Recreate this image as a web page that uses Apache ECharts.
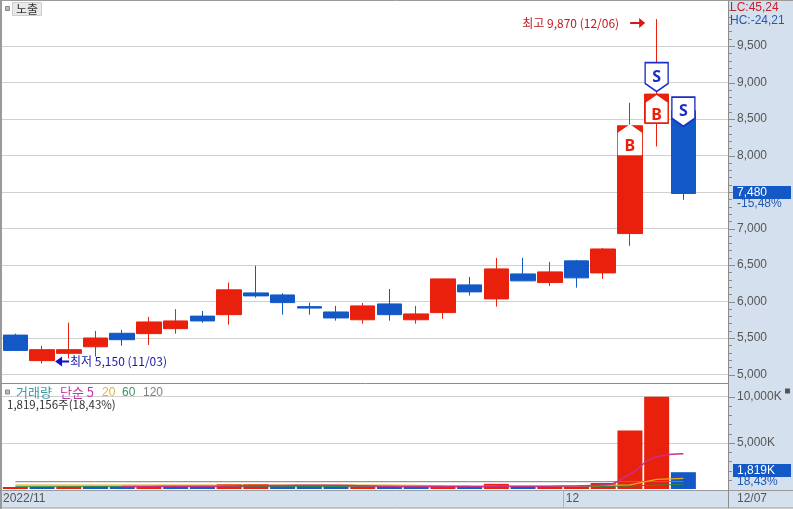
<!DOCTYPE html>
<html><head><meta charset="utf-8">
<style>html,body{margin:0;padding:0;background:#fff}
#c{width:793px;height:509px;background:linear-gradient(#d5e0ee,#d5e0ee) 729px 0/64px 490px no-repeat,linear-gradient(#d5e0ee,#d5e0ee) 0 491px/793px 17px no-repeat,#fff}</style>
<script src="https://cdn.jsdelivr.net/npm/echarts@6/dist/echarts.min.js"></script>
</head><body><div id="c"></div>
<script>
const dates = ['11/02','11/03','11/04','11/07','11/08','11/09','11/10','11/11','11/14','11/15','11/16','11/17','11/18','11/21','11/22','11/23','11/24','11/25','11/28','11/29','11/30','12/01','12/02','12/05','12/06','12/07'];
const opens  = [5540,5190,5290,5380,5565,5560,5628,5800,5820,6118,6090,5930,5857,5750,5967,5750,5848,6228,6036,6378,6260,6557,6392,6931,8450,8615];
const closes = [5330,5340,5340,5500,5477,5720,5734,5734,6160,6077,5985,5910,5775,5940,5820,5830,6310,6132,6447,6283,6406,6324,6720,8408,8842,7480];
const lows   = [5330,5150,5220,5245,5395,5405,5560,5710,5683,6053,5820,5820,5738,5697,5738,5697,5765,6081,5930,6283,6214,6190,6310,6763,8125,7393];
const highs  = [5560,5390,5710,5597,5610,5790,5895,5870,6260,6490,6113,5985,5940,5980,6172,5940,6310,6337,6598,6598,6543,6570,6735,8724,9870,8615];
const volumes = [220,230,260,300,280,310,300,290,530,530,310,320,300,270,280,260,280,270,560,270,280,310,650,6350,9990,1819];
const volumeUp = [1,0,1,0,0,1,0,0,1,1,0,0,0,1,0,0,1,0,1,0,1,1,1,1,1,0];
const ma5   = [null,null,null,null,270,280,290,290,330,380,390,400,400,350,290,270,270,260,300,300,310,330,420,1600,3500,3830];
const ma20  = [430,430,430,430,430,430,430,430,430,430,430,430,430,430,430,400,360,330,310,300,300,310,390,440,1050,1160];
const ma60  = [250,250,250,250,250,250,250,250,250,250,250,250,250,250,250,250,250,250,250,250,250,250,270,320,430,500];
const ma120 = [790,790,790,790,790,790,790,790,790,790,790,790,790,790,790,790,790,790,790,790,790,790,790,800,810,820];
const priceTicks = {min:5000,max:10000,step:500};
const volTicks = {min:0,max:10000,step:5000};
const lowLabel = '최저 5,150 (11/03)';
const highLabel = '최고 9,870 (12/06)';

const RED='#e8200c', BLUE='#1258c6', GRID='#d0d0d0', AXIS='#8c8c8c', TXT='#555';
const NUM='"Liberation Sans",sans-serif';
const KR='"Noto Sans CJK KR",sans-serif';
const fmt = v => String(v).replace(/\B(?=(\d{3})+$)/g, ',');
const idx = dates.map((_,i)=>i);
const X = {type:'value',min:-0.5,max:26.67,show:false};
const T=(x,y,text,fill,o)=>({type:'text',x,y,z:50,style:Object.assign({text,fill,font:'12px '+NUM,textVerticalAlign:'middle'},o||{})});
const R=(x,y,w,h,fill,z,stroke)=>({type:'rect',z:z||0,shape:{x,y,width:w,height:h},style:{fill,stroke:stroke||null}});
const L=(x1,y1,x2,y2,c)=>({type:'line',z:40,shape:{x1,y1,x2,y2},style:{stroke:c||AXIS,lineWidth:1}});
const flag=(dir)=> dir==='down'
  ? 'path://M0 0L22 0L22 21L11 29L0 21Z'
  : 'path://M11 0L22 8L22 29L0 29L0 8Z';
const mp=(coord,dir,text,color,off,border)=>({coord,symbol:flag(dir),symbolSize:[23,29],symbolOffset:[0,off],
  itemStyle:{color:'#fff',borderColor:border,borderWidth:1.5},
  label:{show:true,formatter:text,position:'inside',offset:[0,dir==='down'?0:7],color,fontSize:16,fontWeight:'bold',fontFamily:'"Noto Sans",sans-serif'}});
const yBase={type:'value',position:'right',
  axisLine:{show:false,onZero:false},
  axisTick:{show:false},
  minorTick:{show:false}};
const priceGrid={left:2,width:726,top:9.6,height:364.9};
const volGrid={left:2,width:726,top:396.7,height:92.3};
/* right-hand scale tick marks: every fifth of an interval, longer on the interval */
const tickMarks=(g,t,skipMin)=>{
  const out=[], minor=t.step/5, n=Math.round((t.max-t.min)/minor);
  for(let k=skipMin?1:0;k<=n;k++){
    const y=Math.round(g.top+g.height*(1-k/n))+0.5;
    out.push(L(729,y,k%5===0?735:732,y));
  }
  return out;
};

const option={
  animation:false,backgroundColor:'transparent',
  grid:[
    priceGrid,
    volGrid,
    {left:2,width:726,top:1,height:489}
  ],
  xAxis:[
    Object.assign({gridIndex:0},X),
    Object.assign({gridIndex:1},X),
    {gridIndex:2,type:'value',min:-0.5,max:26.67,position:'bottom',
     axisLine:{show:false,onZero:false},
     axisTick:{show:true,length:0,customValues:[20.5]},
     splitLine:{show:true,lineStyle:{color:GRID,width:1},showMinLine:false,showMaxLine:false},
     axisLabel:{show:true,customValues:[-0.47,20.6],align:'left',margin:3,color:TXT,fontSize:12,fontFamily:NUM,verticalAlign:'top',
       showMinLabel:true,hideOverlap:false,
       formatter:v=>v<0?'2022/11':dates[21].slice(0,2)}}
  ],
  yAxis:[
    Object.assign({gridIndex:0,min:priceTicks.min,max:priceTicks.max,interval:priceTicks.step,
     splitLine:{show:true,showMaxLine:false,lineStyle:{color:GRID,width:1}},
     axisLabel:{showMaxLabel:false,margin:9,color:TXT,fontSize:12,fontFamily:NUM,formatter:fmt}},yBase),
    Object.assign({gridIndex:1,min:volTicks.min,max:volTicks.max,interval:volTicks.step,
     splitLine:{show:true,showMinLine:false,lineStyle:{color:GRID,width:1}},
     axisLabel:{showMinLabel:false,margin:9,color:TXT,fontSize:12,fontFamily:NUM,formatter:v=>fmt(v)+'K'}},yBase),
    {gridIndex:2,type:'value',min:0,max:1,show:false}
  ],
  series:[
    {type:'line',xAxisIndex:2,yAxisIndex:2,data:[],silent:true},
    {type:'candlestick',xAxisIndex:0,yAxisIndex:0,barWidth:25,z:8,
     encode:{x:0,y:[1,2,3,4]},
     data:idx.map(i=>[i,opens[i],closes[i],lows[i],highs[i]]),
     itemStyle:{color:RED,color0:BLUE,borderColor:RED,borderColor0:BLUE,borderWidth:1},
     markPoint:{animation:false,silent:true,z:9,data:[
       mp([23,closes[23]],'up','B',RED,14,'#fff'),
       mp([24,closes[24]],'up','B',RED,14.5,RED),
       mp([24,closes[24]],'down','S','#1a2fc8',-17,'#1a2fc8'),
       mp([25,opens[25]],'down','S','#1a2fc8',1,'#1a2fc8'),
       {coord:[1,lows[1]],symbol:'path://M0 5L7 0L7 4L14 4L14 6L7 6L7 10Z',symbolSize:[14,10],symbolOffset:[20,-2],
        itemStyle:{color:'#1010c8'},
        label:{show:true,formatter:lowLabel,position:'right',distance:1,color:'#1a1aa8',fontSize:12,fontFamily:KR}},
       {coord:[24,highs[24]],symbol:'path://M0 4L9 4L9 0L15 5L9 10L9 6L0 6Z',symbolSize:[15,10],symbolOffset:[-19,4],
        itemStyle:{color:'#d81818'},
        label:{show:true,formatter:highLabel,position:'left',distance:11,color:'#c01a1a',fontSize:12,fontFamily:KR}}
     ]}},
    {type:'bar',xAxisIndex:1,yAxisIndex:1,barWidth:25,z:8,
     data:idx.map(i=>({value:[i,volumes[i]],itemStyle:{color:volumeUp[i]?RED:BLUE}}))},
    ...[[ma120,'#7a7a7a',1,false],[ma60,'#2e8b3a',1,false],[ma20,'#e8a820',1.2,false],[ma5,'#c8308c',1.5,true]].map(([d,c,w,s])=>({
      type:'line',xAxisIndex:1,yAxisIndex:1,showSymbol:false,smooth:s,z:9,
      lineStyle:{color:c,width:w},connectNulls:false,data:idx.map(i=>[i,d[i]])}))
  ],
  graphic:[
    R(0,0,2,509,'#9a9a9a',40),
    L(0,0.5,793,0.5,'#9a9a9a'),
    L(2,383.5,729,383.5),
    L(0,490.5,793,490.5,'#9a9a9a'),
    L(0,508,793,508,'#9a9a9a'),
    L(728.5,1,728.5,508),
    L(563.5,490,563.5,508,'#b0b0b0'),
    R(5.5,6.5,4,4,'#bbb',45,'#888'),
    R(12.5,2.5,29,13,'#e9e9e9',45,'#cfcfcf'),
    T(27,9.5,'노출','#333',{font:'12px '+KR,textAlign:'center'}),
    T(730,8,'LC:45,24','#c8202a'),
    T(730,21,'HC:-24,21','#2458b0'),
    R(733,186,58,13,BLUE,45),
    T(737,192.5,fmt(closes[25]),'#fff'),
    T(737,204,'-15,48%','#2458b0'),
    R(733,464,58,13,BLUE,45),
    T(737,470.5,fmt(volumes[25])+'K','#fff'),
    T(737,482,'18,43%','#2458b0'),
    T(737,499,dates[25],TXT),
    R(785,388.5,5,5,'#555',45),
    R(5.5,390,4,4,'#bbb',45,'#888'),
    T(16,392.5,'거래량','#3d9aa0',{font:'13px '+KR}),
    T(60,392.5,'단순 5','#c23aa8',{font:'13px '+KR}),
    T(102,392.5,'20','#e0b040'),
    T(122,392.5,'60','#3c9460'),
    T(143,392.5,'120','#808080'),
    T(7,405,'1,819,156주(18,43%)','#333',{font:'11.5px '+KR}),
    ...tickMarks(priceGrid,priceTicks,false),
    ...tickMarks(volGrid,volTicks,true)
  ]
};
echarts.init(document.getElementById('c'),null,{renderer:'canvas'}).setOption(option);
</script></body></html>
